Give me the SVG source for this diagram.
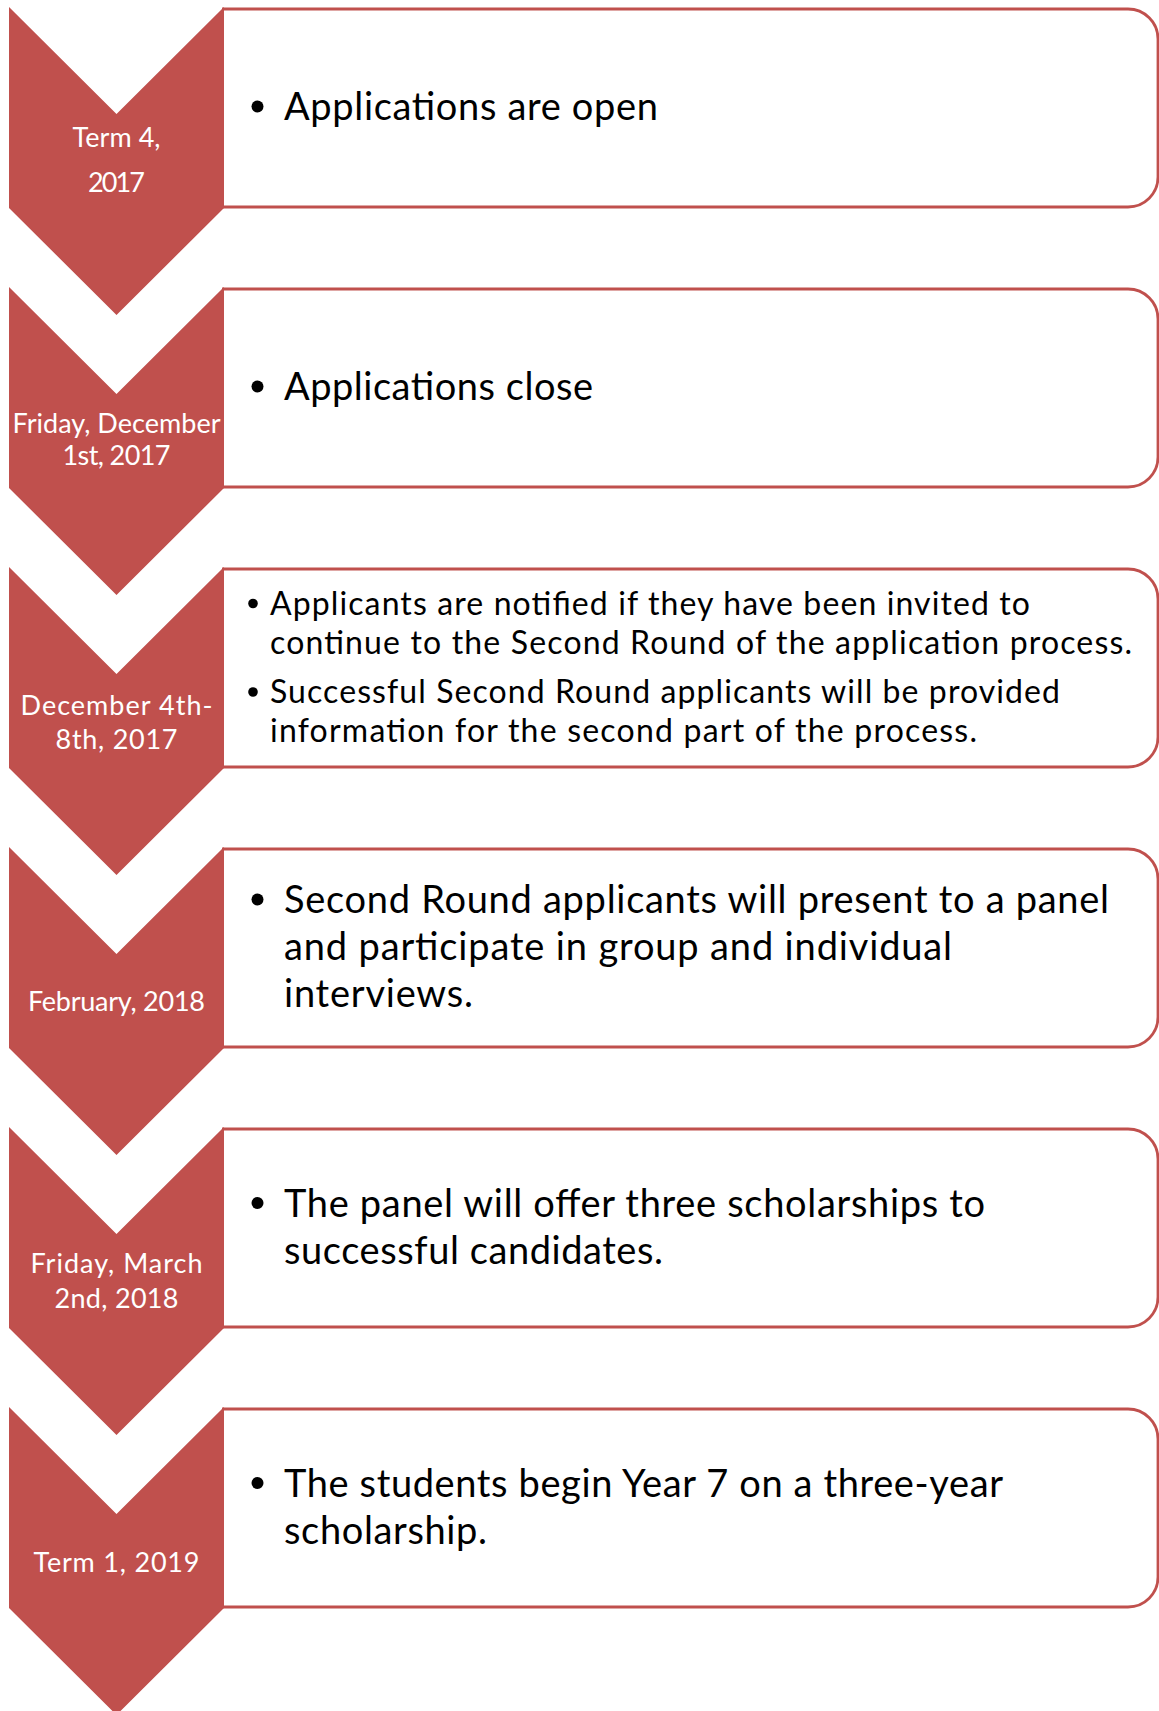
<svg xmlns="http://www.w3.org/2000/svg" width="1159" height="1711" viewBox="0 0 1159 1711">
<style>
.chev{fill:#C0504D;}
.box{fill:#FFFFFF;stroke:#C0504D;stroke-width:2.8;}
.lbl{font-family:Lato,"Open Sans","Liberation Sans",sans-serif;font-size:27px;fill:#FFFFFF;text-anchor:middle;}
.main{font-family:Lato,"Open Sans","Liberation Sans",sans-serif;font-size:38px;fill:#000000;}
.small{font-family:Lato,"Open Sans","Liberation Sans",sans-serif;font-size:32px;fill:#000000;}
.bul{fill:#000000;}
</style>
<defs>
<path id="boxshape" d="M222,9 H1128 A30,30 0 0 1 1158,39 V177 A30,30 0 0 1 1128,207 H222"/>
<path id="chevshape" d="M9,7 L116.5,114 L224,7 V208 L116.5,315 L9,208 Z"/>
</defs>
<rect width="1159" height="1711" fill="#FFFFFF"/>
<g id="connectors"/>

<g id="step1">
<use href="#boxshape" class="box"/>
<use href="#chevshape" class="chev"/>
<text class="lbl" x="116.5" y="147" textLength="88">Term 4,</text>
<text class="lbl" x="116.5" y="192" textLength="57">2017</text>
<circle class="bul" cx="257.5" cy="106.5" r="6"/>
<text class="main" x="284" y="120" textLength="374">Applications are open</text>
</g>

<g id="step2" transform="translate(0,280)">
<use href="#boxshape" class="box"/>
<use href="#chevshape" class="chev"/>
<text class="lbl" x="116.5" y="153" textLength="208">Friday, December</text>
<text class="lbl" x="116.5" y="185" textLength="108">1st, 2017</text>
<circle class="bul" cx="257.5" cy="106.5" r="6"/>
<text class="main" x="284" y="120" textLength="309">Applications close</text>
</g>

<g id="step3" transform="translate(0,560)">
<use href="#boxshape" class="box"/>
<use href="#chevshape" class="chev"/>
<text class="lbl" x="116.5" y="155" textLength="192">December 4th-</text>
<text class="lbl" x="116.5" y="189" textLength="122">8th, 2017</text>
<circle class="bul" cx="253" cy="43.5" r="4.8"/>
<text class="small" x="270" y="54.5" textLength="760">Applicants are notified if they have been invited to</text>
<text class="small" x="270" y="94" textLength="862">continue to the Second Round of the application process.</text>
<circle class="bul" cx="253" cy="132" r="4.8"/>
<text class="small" x="270" y="143" textLength="790">Successful Second Round applicants will be provided</text>
<text class="small" x="270" y="182" textLength="707">information for the second part of the process.</text>
</g>

<g id="step4" transform="translate(0,840)">
<use href="#boxshape" class="box"/>
<use href="#chevshape" class="chev"/>
<text class="lbl" x="116.5" y="171" textLength="177">February, 2018</text>
<circle class="bul" cx="257.5" cy="59.5" r="6"/>
<text class="main" x="284" y="73" textLength="825">Second Round applicants will present to a panel</text>
<text class="main" x="284" y="120" textLength="668">and participate in group and individual</text>
<text class="main" x="284" y="167" textLength="189">interviews.</text>
</g>

<g id="step5" transform="translate(0,1120)">
<use href="#boxshape" class="box"/>
<use href="#chevshape" class="chev"/>
<text class="lbl" x="116.5" y="153" textLength="172">Friday, March</text>
<text class="lbl" x="116.5" y="188" textLength="124">2nd, 2018</text>
<circle class="bul" cx="257.5" cy="83" r="6"/>
<text class="main" x="284" y="96.5" textLength="701">The panel will offer three scholarships to</text>
<text class="main" x="284" y="143.5" textLength="379">successful candidates.</text>
</g>

<g id="step6" transform="translate(0,1400)">
<use href="#boxshape" class="box"/>
<use href="#chevshape" class="chev"/>
<text class="lbl" x="116.5" y="172" textLength="166">Term 1, 2019</text>
<circle class="bul" cx="257.5" cy="83" r="6"/>
<text class="main" x="284" y="96.5" textLength="719">The students begin Year 7 on a three-year</text>
<text class="main" x="284" y="143.5" textLength="203">scholarship.</text>
</g>
</svg>
